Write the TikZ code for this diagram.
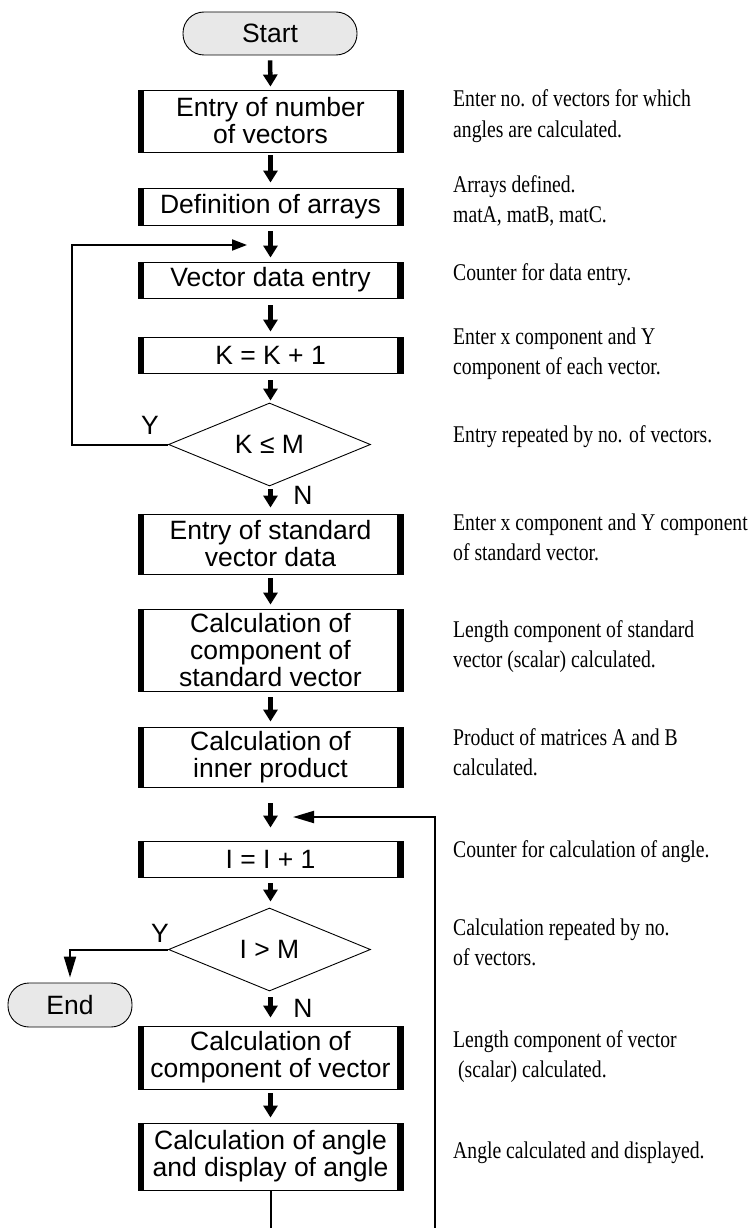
\documentclass[tikz,border=0pt]{standalone}
\usepackage{fontspec}
\setmainfont{Liberation Serif}
\setsansfont{Liberation Sans}
\newfontfamily\notefont{Liberation Serif}[FakeStretch=0.82]
\usetikzlibrary{shapes.geometric,arrows.meta}
\definecolor{termgray}{HTML}{E8E8E8}
\begin{document}
\begin{tikzpicture}[x=1pt,y=-1pt,
  boxst/.style={draw, line width=0.9pt, minimum width=265pt, inner sep=0pt, align=center,
    font=\sffamily\fontsize{26.5}{27}\selectfont,
    path picture={\fill (path picture bounding box.north west) rectangle ([xshift=6pt]path picture bounding box.south west);
                  \fill ([xshift=-6pt]path picture bounding box.north east) rectangle (path picture bounding box.south east);}},
  term/.style={draw, line width=0.9pt, fill=termgray, rounded corners=21pt, inner sep=0pt,
    font=\sffamily\fontsize{26.5}{27}\selectfont},
  dec/.style={diamond, draw, line width=0.9pt, minimum width=202pt, minimum height=83pt, aspect=2.43,
    inner sep=0pt, font=\sffamily\fontsize{26.5}{27}\selectfont},
  flow/.style={line width=4.5pt, -{Triangle[length=12pt,width=14pt]}},
  link/.style={line width=2pt},
  lab/.style={font=\sffamily\fontsize{26.5}{27}\selectfont, inner sep=0pt},
  note/.style={anchor=base west, align=left, inner sep=0pt, font=\notefont\fontsize{24}{30}\selectfont}
]
\useasboundingbox (0,0) rectangle (755,1228);

% flow nodes
\node[term, minimum width=174pt, minimum height=43pt] (start) at (270,33.5) {Start};
\node[boxst, minimum height=62pt] (b1) at (270.5,121) {Entry of number\\ of vectors};
\node[boxst, minimum height=37pt] (b2) at (270.5,206.5) {Definition of arrays};
\node[boxst, minimum height=36pt] (b3) at (270.5,280) {Vector data entry};
\node[boxst, minimum height=36pt] (b4) at (270.5,355) {K = K + 1};
\node[dec] (d1) at (269.5,444.5) {K ≤ M};
\node[boxst, minimum height=60pt] (b5) at (270.5,544) {Entry of standard\\ vector data};
\node[boxst, minimum height=82pt] (b6) at (270.5,650) {Calculation of\\ component of\\ standard vector};
\node[boxst, minimum height=60pt] (b7) at (270.5,757) {Calculation of\\ inner product};
\node[boxst, minimum height=36pt] (b8) at (270.5,859) {I = I + 1};
\node[dec] (d2) at (269.5,949.5) {I > M};
\node[term, minimum width=124pt, minimum height=44pt] (end) at (70,1005) {End};
\node[boxst, minimum height=63pt] (b9) at (270.5,1057.5) {Calculation of\\ component of vector};
\node[boxst, minimum height=67pt] (b10) at (270.5,1156.5) {Calculation of angle\\ and display of angle};

% labels
\node[lab] (y1) at (150,425) {Y};
\node[lab] (n1) at (303,495) {N};
\node[lab] (y2) at (160,933) {Y};
\node[lab] (n2) at (303,1008) {N};

% thick flow arrows
\draw[flow, shorten <=5pt, shorten >=3pt] (start.south) -- (b1.north);
\draw[flow, shorten <=3pt, shorten >=5pt] (b1.south) -- (b2.north);
\draw[flow, shorten <=6pt, shorten >=4pt] (b2.south) -- (b3.north);
\draw[flow, shorten <=7pt, shorten >=5pt] (b3.south) -- (b4.north);
\draw[flow, shorten <=7pt, shorten >=2pt] (b4.south) -- (b4.south |- d1.north);
\draw[flow, shorten <=3pt, shorten >=6pt] (b5.north |- d1.south) -- (b5.north);
\draw[flow, shorten <=4pt, shorten >=4pt] (b5.south) -- (b6.north);
\draw[flow, shorten <=6pt, shorten >=5pt] (b6.south) -- (b7.north);
\draw[flow, shorten <=16pt, shorten >=13pt] (b7.south) -- (b8.north);
\draw[flow, shorten <=6pt, shorten >=6pt] (b8.south) -- (b8.south |- d2.north);
\draw[flow, shorten <=6pt, shorten >=8pt] (b9.north |- d2.south) -- (b9.north);
\draw[flow, shorten <=4pt, shorten >=5pt] (b9.south) -- (b10.north);

% loop connectors
\coordinate (loopin) at (247,245);
\draw[link, -{Triangle[length=15pt,width=11pt]}] (d1.west) -- ++(-96,0) |- (loopin);
\draw[link, -{Triangle[length=21pt,width=12pt]}, shorten >=5pt] (d2.west) -| (end.north);
\coordinate (retin) at (293,817);
\coordinate (retbot) at (435,1228);
\draw[link, -{Triangle[length=21pt,width=12pt]}] (retbot) |- (retin);
\draw[link] (b10.south) -- (b10.south |- retbot);

% notes (anchor at baseline of last line)
\node[note] (t1) at (453,137) {Enter no. of vectors for which\\angles are calculated.};
\node[note] (t2) at (453,222) {Arrays defined.\\matA, matB, matC.};
\node[note] (t3) at (453,280) {Counter for data entry.};
\node[note] (t4) at (453,374) {Enter x component and Y\\component of each vector.};
\node[note] (t5) at (453,442) {Entry repeated by no. of vectors.};
\node[note] (t6) at (453,560) {Enter x component and Y component\\of standard vector.};
\node[note] (t7) at (453,667) {Length component of standard\\vector (scalar) calculated.};
\node[note] (t8) at (453,775) {Product of matrices A and B\\calculated.};
\node[note] (t9) at (453,857) {Counter for calculation of angle.};
\node[note] (t10) at (453,965) {Calculation repeated by no.\\of vectors.};
\node[note] (t11) at (453,1077) {Length component of vector\\\ (scalar) calculated.};
\node[note] (t12) at (453,1158) {Angle calculated and displayed.};
\end{tikzpicture}
\end{document}
